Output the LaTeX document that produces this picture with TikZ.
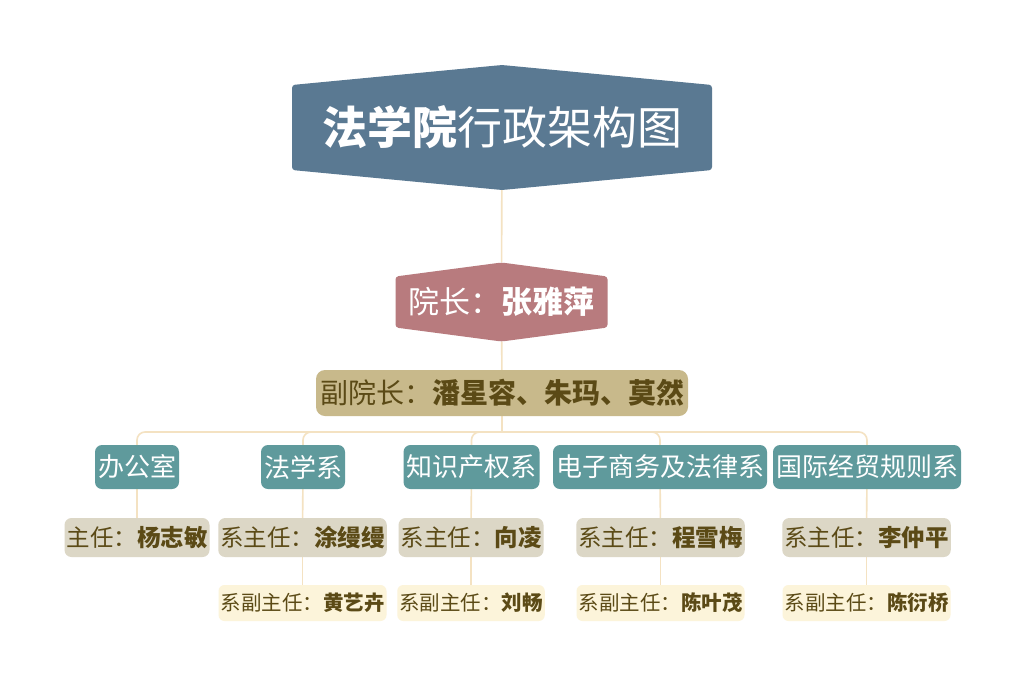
\documentclass[tikz,border=0pt]{standalone}
\usepackage{fontspec}
\usepackage{tikz}
\usetikzlibrary{positioning, calc, backgrounds}
\newfontfamily\cjk{Noto Sans CJK SC}
\definecolor{titleblue}{HTML}{5A7992}
\definecolor{deanrose}{HTML}{B87B7E}
\definecolor{vicetan}{HTML}{C8B98B}
\definecolor{deptteal}{HTML}{5F9A9C}
\definecolor{headgrey}{HTML}{DCD7C6}
\definecolor{deputycream}{HTML}{FCF4DA}
\definecolor{olivetext}{HTML}{5B4A16}
\definecolor{linkcream}{HTML}{F4E2C2}

\begin{document}
\begin{tikzpicture}[x=1pt, y=-1pt,
  hexbox/.style 2 args={rectangle, inner sep=0pt, text=white,
    path picture={\fill[#1, rounded corners=3pt]
      (path picture bounding box.north)
      -- ($(path picture bounding box.north east)+(0,-#2)$)
      -- ($(path picture bounding box.south east)+(0,#2)$)
      -- (path picture bounding box.south)
      -- ($(path picture bounding box.south west)+(0,#2)$)
      -- ($(path picture bounding box.north west)+(0,-#2)$) -- cycle;}},
  vicebox/.style={rectangle, fill=vicetan, rounded corners=9pt, text=olivetext,
    font=\cjk\fontsize{28}{32}\selectfont, minimum height=46pt, inner xsep=4pt, inner ysep=0pt},
  dept/.style={rectangle, fill=deptteal, rounded corners=7pt, text=white,
    font=\cjk\fontsize{26}{30}\selectfont, minimum height=44pt, inner xsep=3pt, inner ysep=0pt},
  head/.style={rectangle, fill=headgrey, rounded corners=7pt, text=olivetext,
    font=\cjk\fontsize{23.5}{28}\selectfont, minimum height=39pt, inner xsep=2pt, inner ysep=0pt},
  deputy/.style={rectangle, fill=deputycream, rounded corners=6pt, text=olivetext,
    font=\cjk\fontsize{20.5}{24}\selectfont, minimum height=36pt, inner xsep=2pt, inner ysep=0pt},
  link/.style={draw=linkcream, line width=1.6pt}
]
  \useasboundingbox (0,0) rectangle (1024,686);

  % top of the chart
  \node[hexbox={titleblue}{20pt}, minimum width=420pt, minimum height=125pt,
    font=\cjk\fontsize{45}{50}\selectfont] (title) at (502,127.5)
    {{\bfseries 法学院}行政架构图};
  \node[hexbox={deanrose}{14pt}, minimum width=212pt, minimum height=79pt,
    font=\cjk\fontsize{31}{36}\selectfont] (dean) at (501.5,302)
    {院长：{\bfseries 张雅萍}};
  \node[vicebox] (vice) at (502,393) {副院长：{\bfseries 潘星容、朱玛、莫然}};
  \coordinate (bus) at (502,432);

  % departments
  \node[dept] (office) at (137,467)   {办公室};
  \node[dept] (law)    at (303,467)   {法学系};
  \node[dept] (ip)     at (471.5,467) {知识产权系};
  \node[dept] (ecom)   at (660,467)   {电子商务及法律系};
  \node[dept] (intl)   at (867,467)   {国际经贸规则系};

  % heads
  \node[head] (officehead) at (137,537.5)   {主任：{\bfseries 杨志敏}};
  \node[head] (lawhead)    at (302.5,537.5) {系主任：{\bfseries 涂缦缦}};
  \node[head] (iphead)     at (471,537.5)   {系主任：{\bfseries 向凌}};
  \node[head] (ecomhead)   at (660.5,537.5) {系主任：{\bfseries 程雪梅}};
  \node[head] (intlhead)   at (866.5,537.5) {系主任：{\bfseries 李仲平}};

  % deputies
  \node[deputy] (lawdep)  at (302.5,603) {系副主任：{\bfseries 黄艺卉}};
  \node[deputy] (ipdep)   at (471,603)   {系副主任：{\bfseries 刘畅}};
  \node[deputy] (ecomdep) at (660.5,603) {系副主任：{\bfseries 陈叶茂}};
  \node[deputy] (intldep) at (866.5,603) {系副主任：{\bfseries 陈衍桥}};

  \begin{pgfonlayer}{background}
    \fill[white] (0,0) rectangle (1024,686);
    \draw[link] (title) -- (dean);
    \draw[link] (dean) -- (vice);
    \draw[link] (vice) -- (bus);
    \foreach \d in {office, law, ip, ecom, intl}
      \draw[link, rounded corners=8pt] (bus) -| (\d.north);
    \draw[link] (office) -- (officehead);
    \foreach \d in {law, ip, ecom, intl} {
      \draw[link] (\d) -- (\d head);
      \draw[link] (\d head) -- (\d dep);
    }
  \end{pgfonlayer}
\end{tikzpicture}
\end{document}
